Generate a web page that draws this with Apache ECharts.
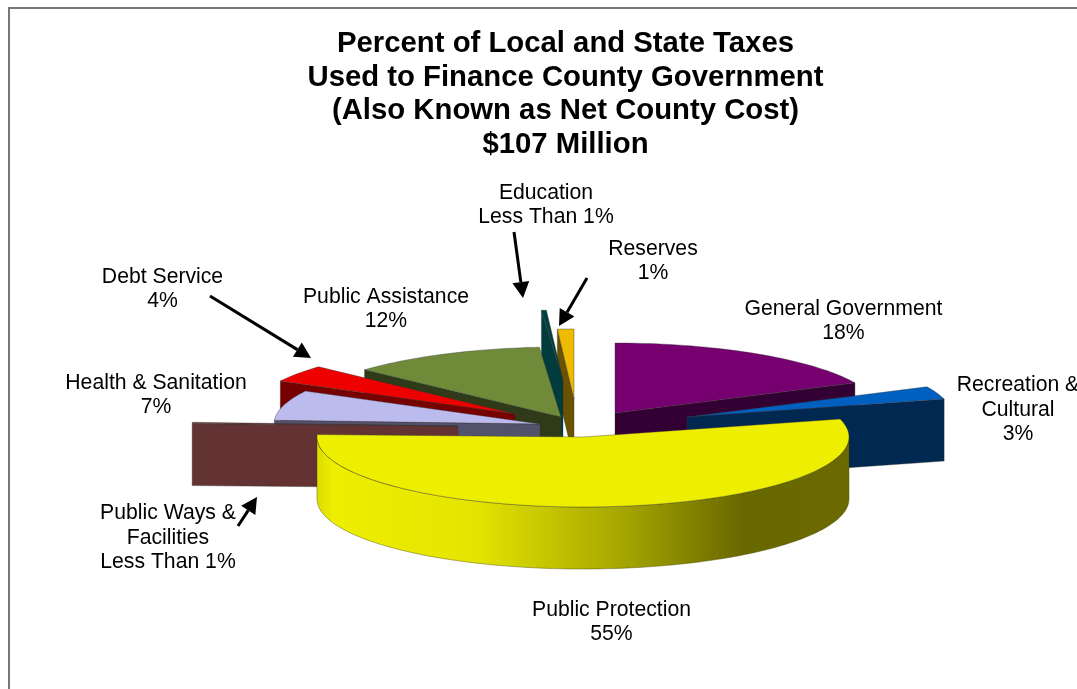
<!DOCTYPE html>
<html>
<head>
<meta charset="utf-8">
<style>html,body{margin:0;padding:0;background:#fff}#chart{width:1077px;height:689px}</style>
<script src="https://cdn.jsdelivr.net/npm/echarts@6/dist/echarts.min.js"></script>
</head>
<body>
<div id="chart"></div>
<script>
// Budget shares, clockwise from twelve o'clock
const categories = ['General Government', 'Recreation & Cultural', 'Public Protection', 'Public Ways & Facilities',
  'Health & Sanitation', 'Debt Service', 'Public Assistance', 'Education', 'Reserves'];
const shares = [18, 3, 55, 0.3, 7, 4, 12, 0.3, 1];

// Label text shown beside each slice
const labelLines = [
  'General Government\n18%', 'Recreation &\nCultural\n3%', 'Public Protection\n55%',
  'Public Ways &\nFacilities\nLess Than 1%', 'Health & Sanitation\n7%', 'Debt Service\n4%',
  'Public Assistance\n12%', 'Education\nLess Than 1%', 'Reserves\n1%'
];
const labelAnchors = [[843.5, 321], [1018, 410], [611.5, 622], [168, 538], [156, 395], [162.5, 289], [386, 309], [546, 205], [653, 261]];

const titleText = 'Percent of Local and State Taxes\nUsed to Finance County Government\n(Also Known as Net County Cost)\n$107 Million';

// Slice colours: top face, cut face
const topColors = ['#770070', '#0060c0', '#eeee00', '#6a3434', '#bbbbee', '#ee0000', '#6f8a38', '#004040', '#eebb00'];
const cutColors = ['#330033', '#002850', '#666600', '#633333', '#52526c', '#770000', '#2f3a18', '#003c3c', '#6a5200'];

// Pie projection and how far each slice is pulled out from the centre
const pie = { cx: 583, cy: 437, rx: 266, ry: 70, depth: 62 };
const explodeX = [32, 104, 0, -125, -43, -68, -22, -20, -9];
const explodeY = [-24, -20, 0, -11, -13, -23, -20, -57, -38];

// Back slices are painted first so the front ones overlap them
const paintOrder = [0, 1, 8, 7, 6, 5, 4, 3, 2];

// Leader arrows: tail and tip
const arrows = [
  [[210, 296], [311, 358]],
  [[514, 232], [523, 298]],
  [[587, 278], [559, 326]],
  [[238, 526], [257, 497]]
];

const total = shares.reduce((a, b) => a + b, 0);
const rows = [];
let running = 0;
shares.forEach((v, i) => {
  const a0 = echarts.number.linearMap(running, [0, total], [0, 360]);
  running += v;
  const a1 = echarts.number.linearMap(running, [0, total], [0, 360]);
  rows[i] = { value: [a0, a1, i], name: categories[i] };
});
const paintedRows = paintOrder.map(i => rows[i]);

const rad = d => d * Math.PI / 180;

function renderSlice(params, api) {
  const a0 = api.value(0), a1 = api.value(1), i = api.value(2);
  const ox = pie.cx + explodeX[i], oy = pie.cy + explodeY[i];
  const rim = a => [ox + pie.rx * Math.sin(rad(a)), oy - pie.ry * Math.cos(rad(a))];
  const drop = p => [p[0], p[1] + pie.depth];
  const arc = (from, to) => {
    const pts = [], n = Math.max(2, Math.ceil(Math.abs(to - from) / 1.5));
    for (let k = 0; k <= n; k++) pts.push(rim(from + (to - from) * k / n));
    return pts;
  };
  const edge = { stroke: 'rgba(50,50,50,0.55)', lineWidth: 0.7 };
  const poly = (points, fill, stroke) => ({
    type: 'polygon', shape: { points }, style: Object.assign({ fill }, stroke || edge), silent: true
  });
  const apex = [ox, oy];
  const children = [];

  // Cut faces that turn toward the viewer
  if (Math.sin(rad(a0)) < -1e-6) {
    const r = rim(a0);
    children.push(poly([apex, r, drop(r), drop(apex)], cutColors[i]));
  }
  if (Math.sin(rad(a1)) > 1e-6) {
    const r = rim(a1);
    children.push(poly([apex, r, drop(r), drop(apex)], cutColors[i]));
  }
  // Outer wall on the near half of the rim
  const w0 = Math.max(a0, 90), w1 = Math.min(a1, 270);
  if (w1 > w0) {
    const top = arc(w0, w1);
    const wallFill = new echarts.graphic.LinearGradient(ox - pie.rx, 0, ox + pie.rx, 0, [
      { offset: 0, color: '#dcdc00' },
      { offset: 0.03, color: '#eeee00' },
      { offset: 0.3, color: '#e4e400' },
      { offset: 0.58, color: '#a4a400' },
      { offset: 0.8, color: '#686800' },
      { offset: 1, color: '#6a6a00' }
    ], true);
    children.push(poly(top.concat(top.map(drop).reverse()), wallFill, { stroke: 'rgba(70,70,0,0.6)', lineWidth: 0.7 }));
  }
  // Top face
  children.push(poly([apex].concat(arc(a0, a1)), topColors[i]));
  return { type: 'group', children };
}

function arrowGraphic(tail, tip) {
  const dx = tip[0] - tail[0], dy = tip[1] - tail[1];
  const len = Math.hypot(dx, dy), ux = dx / len, uy = dy / len;
  const headLen = 16, headHalf = 8.5;
  const bx = tip[0] - ux * headLen, by = tip[1] - uy * headLen;
  return [
    { type: 'line', shape: { x1: tail[0], y1: tail[1], x2: bx, y2: by }, style: { stroke: '#000', lineWidth: 3 }, silent: true },
    { type: 'polygon', shape: { points: [tip, [bx - uy * headHalf, by + ux * headHalf], [bx + uy * headHalf, by - ux * headHalf]] }, style: { fill: '#000' }, silent: true }
  ];
}

const font = 'Arial, "Liberation Sans", sans-serif';
const labelGraphics = labelLines.map((text, i) => ({
  type: 'text', x: labelAnchors[i][0], y: labelAnchors[i][1], silent: true,
  style: { text, fill: '#000', font: '21.2px ' + font, lineHeight: 24.5, align: 'center', verticalAlign: 'middle' }
}));
const frame = [
  { type: 'line', shape: { x1: 9, y1: 8, x2: 1077, y2: 8 }, style: { stroke: '#777', lineWidth: 2 }, silent: true },
  { type: 'line', shape: { x1: 9, y1: 7, x2: 9, y2: 689 }, style: { stroke: '#777', lineWidth: 2 }, silent: true }
];

const chart = echarts.init(document.getElementById('chart'), null, { renderer: 'canvas' });
chart.setOption({
  animation: false,
  backgroundColor: '#fff',
  title: {
    text: titleText, left: 560.5, top: 22, textAlign: 'center',
    textStyle: { fontFamily: font, fontWeight: 'bold', fontSize: 29.3, lineHeight: 33.7, color: '#000' }
  },
  graphic: { elements: frame.concat(labelGraphics, arrows.flatMap(a => arrowGraphic(a[0], a[1]))) },
  series: [{
    type: 'custom',
    coordinateSystem: 'none',
    renderItem: renderSlice,
    data: paintedRows,
    silent: true
  }]
});
</script>
</body>
</html>
